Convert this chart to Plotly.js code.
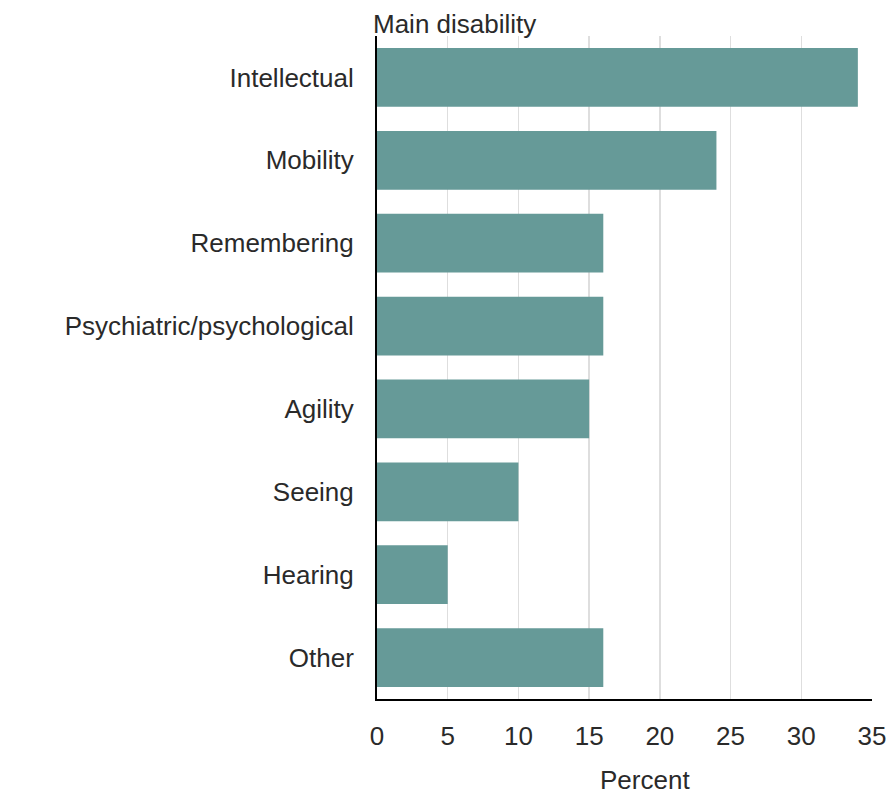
<!DOCTYPE html>
<html>
<head>
<meta charset="utf-8">
<script src="https://cdn.plot.ly/plotly-3.0.1.min.js"></script>
<style>html,body{margin:0;padding:0;background:#fff;}#chart{width:891px;height:794px;}</style>
</head>
<body>
<div id="chart"></div>
<script>
const categories = ["Intellectual","Mobility","Remembering","Psychiatric/psychological","Agility","Seeing","Hearing","Other"];
const percentValues = [34, 24, 16, 16, 15, 10, 5, 16];
const xTickValues = [0, 5, 10, 15, 20, 25, 30, 35];

const FONT = "Liberation Sans, Arial, Helvetica, sans-serif";
const FS = 26;
const TXT = "#2a2a2a";
const trace = {
  type: "bar",
  orientation: "h",
  x: percentValues,
  y: categories,
  marker: {color: "#669a98", line: {width: 0}},
  hoverinfo: "x+y"
};
const layout = {
  width: 891, height: 794,
  margin: {l: 377, r: 19, t: 36, b: 95},
  paper_bgcolor: "#ffffff", plot_bgcolor: "#ffffff",
  font: {family: FONT, size: FS, color: TXT},
  bargap: 0.29,
  showlegend: false,
  xaxis: {
    range: [0, 35], tickvals: xTickValues, ticktext: xTickValues.map(String),
    showgrid: true, gridcolor: "#dedede", gridwidth: 1.5,
    zeroline: false, showline: true, linecolor: "#000000", linewidth: 2,
    ticks: "", ticklabelstandoff: 13,
    tickfont: {family: FONT, size: FS, color: TXT},
    automargin: false, fixedrange: true
  },
  yaxis: {
    type: "category", categoryorder: "array", categoryarray: categories,
    autorange: "reversed",
    showgrid: false, zeroline: false, showline: true, linecolor: "#000000", linewidth: 2,
    ticks: "", ticklabelstandoff: 16,
    tickfont: {family: FONT, size: FS, color: TXT},
    automargin: false, fixedrange: true
  },
  annotations: [{
    text: "Main disability", xref: "paper", yref: "paper", x: 0, y: 1,
    xanchor: "left", yanchor: "bottom", xshift: -6, yshift: -5, showarrow: false,
    font: {family: FONT, size: FS, color: TXT}
  }, {
    text: "Percent", xref: "paper", yref: "paper", x: 0.541, y: 0,
    xanchor: "center", yanchor: "middle", yshift: -81, showarrow: false,
    font: {family: FONT, size: FS, color: TXT}
  }]
};
Plotly.newPlot("chart", [trace], layout, {displayModeBar: false, staticPlot: true});
</script>
</body>
</html>
